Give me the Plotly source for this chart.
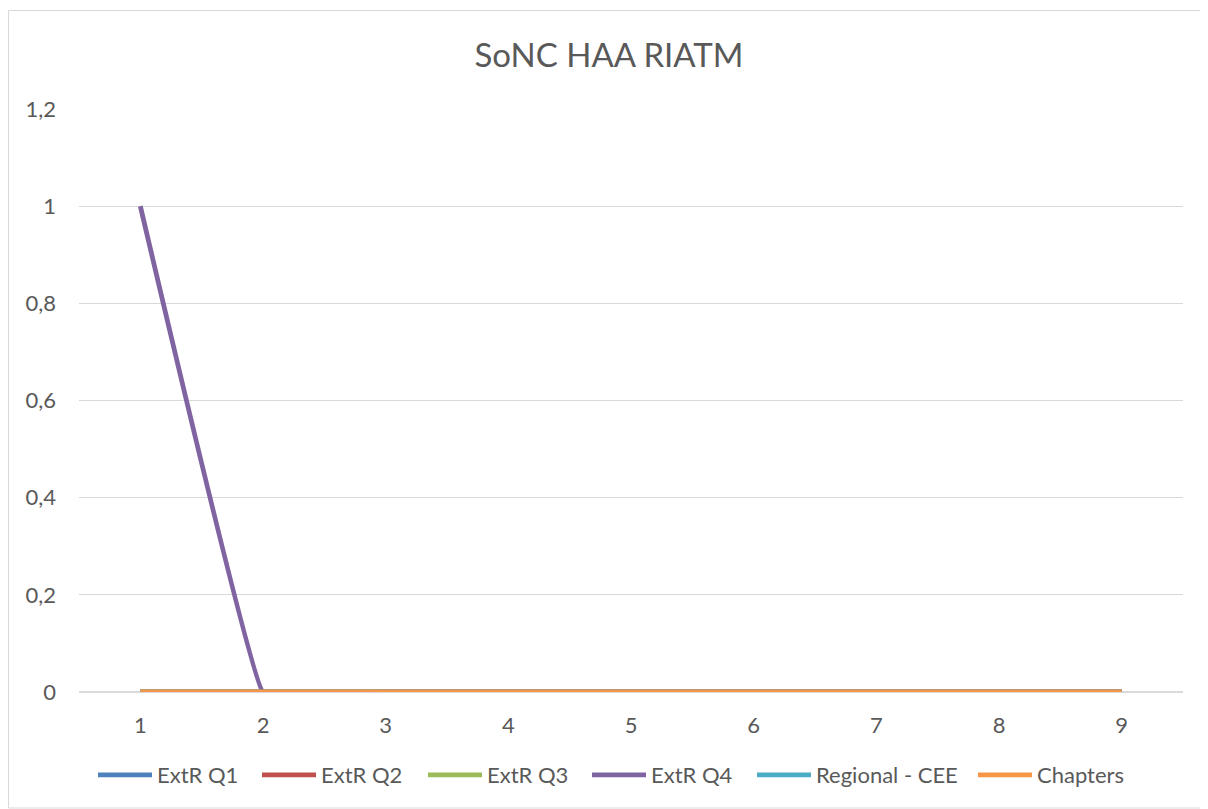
import plotly.graph_objects as go

categories = [1, 2, 3, 4, 5, 6, 7, 8, 9]
series_names = ["ExtR Q1", "ExtR Q2", "ExtR Q3", "ExtR Q4", "Regional - CEE", "Chapters"]
extr_q1 = [0, 0, 0, 0, 0, 0, 0, 0, 0]
extr_q2 = [0, 0, 0, 0, 0, 0, 0, 0, 0]
extr_q3 = [0, 0, 0, 0, 0, 0, 0, 0, 0]
extr_q4 = [1, 0, 0, 0, 0, 0, 0, 0, 0]
regional_cee = [0, 0, 0, 0, 0, 0, 0, 0, 0]
chapters = [0, 0, 0, 0, 0, 0, 0, 0, 0]
colors = ["#4F81BD", "#C0504D", "#9BBB59", "#8064A2", "#4BACC6", "#F79646"]
y_tickvals = [0, 0.2, 0.4, 0.6, 0.8, 1, 1.2]
y_ticktext = ["0", "0,2", "0,4", "0,6", "0,8", "1", "1,2"]

# page is rendered with an 8px body margin, so figure coords = page coords - 8
OFF = 8
W, H = 1200, 801
L, R, T, B = 79 - OFF, 25, 109 - OFF, 117
pw, ph = W - L - R, H - T - B

# legend entry left edges (page px) from the reference
legend_x_px = [93, 257, 423, 587, 752, 973]

font_fam = "Lato, 'Open Sans', sans-serif"

def px_x(px):
    return (px - OFF - L) / pw

def px_y(py):
    return (H - B - (py - OFF)) / ph

fig = go.Figure()
legend_layouts = {}
for i, (name, vals, col) in enumerate(zip(series_names,
                           [extr_q1, extr_q2, extr_q3, extr_q4, regional_cee, chapters],
                           colors)):
    lname = "legend" if i == 0 else f"legend{i + 1}"
    fig.add_trace(go.Scatter(
        x=categories, y=vals, name=name, mode="lines", legend=lname,
        line=dict(color=col, width=4.8, shape="spline", smoothing=0.15),
    ))
    legend_layouts[lname] = dict(
        orientation="h", x=px_x(legend_x_px[i]), xanchor="left",
        y=px_y(775), yanchor="middle", xref="paper", yref="paper",
        font=dict(family=font_fam, size=22, color="#595959"),
        itemwidth=54, bgcolor="rgba(0,0,0,0)",
    )

fig.update_layout(
    width=W, height=H,
    margin=dict(l=L, r=R, t=T, b=B),
    paper_bgcolor="white", plot_bgcolor="white",
    separators=",.",
    title=dict(text="SoNC HAA RIATM", x=px_x(609), xanchor="center",
               xref="paper",
               y=1 - (55 - OFF) / H, yanchor="middle",
               font=dict(family=font_fam, size=33, color="#595959")),
    font=dict(family=font_fam, size=22, color="#595959"),
    showlegend=True,
    xaxis=dict(range=[0.5, 9.5], tickvals=categories,
               ticktext=[str(c) for c in categories],
               showgrid=False, zeroline=False, showline=False,
               ticks="", ticklabelstandoff=18,
               tickfont=dict(size=22, color="#595959")),
    yaxis=dict(range=[0, 1.2], tickvals=y_tickvals, ticktext=y_ticktext,
               showgrid=True, gridcolor="#D9D9D9", gridwidth=1,
               zeroline=True, zerolinecolor="#D9D9D9", showline=False,
               ticks="", ticklabelstandoff=22,
               tickfont=dict(size=22, color="#595959")),
    shapes=[dict(type="rect", xref="paper", yref="paper",
                 x0=px_x(8.5), x1=px_x(1206.5), y0=px_y(808), y1=px_y(10.5),
                 line=dict(color="#D9D9D9", width=1), layer="below")],
    **legend_layouts,
)

fig.write_html("out.html")
